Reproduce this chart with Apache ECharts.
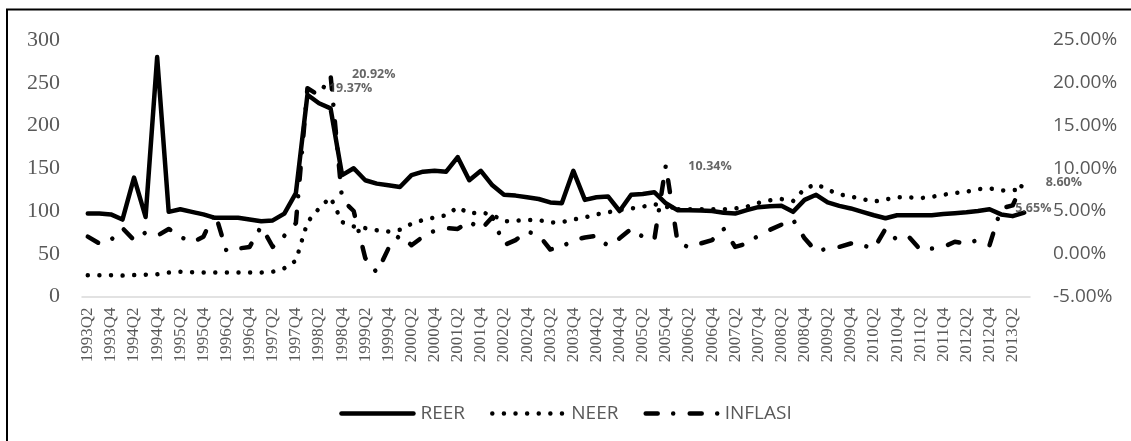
<!DOCTYPE html>
<html>
<head>
<meta charset="utf-8">
<script src="https://cdn.jsdelivr.net/npm/echarts@6/dist/echarts.min.js"></script>
<style>
html,body{margin:0;padding:0;background:#ffffff;}
#chart{width:1131px;height:441px;}
</style>
</head>
<body>
<div id="chart"></div>
<script>
const quarters = [
'1993Q2','1993Q3','1993Q4',
'1994Q1','1994Q2','1994Q3','1994Q4',
'1995Q1','1995Q2','1995Q3','1995Q4',
'1996Q1','1996Q2','1996Q3','1996Q4',
'1997Q1','1997Q2','1997Q3','1997Q4',
'1998Q1','1998Q2','1998Q3','1998Q4',
'1999Q1','1999Q2','1999Q3','1999Q4',
'2000Q1','2000Q2','2000Q3','2000Q4',
'2001Q1','2001Q2','2001Q3','2001Q4',
'2002Q1','2002Q2','2002Q3','2002Q4',
'2003Q1','2003Q2','2003Q3','2003Q4',
'2004Q1','2004Q2','2004Q3','2004Q4',
'2005Q1','2005Q2','2005Q3','2005Q4',
'2006Q1','2006Q2','2006Q3','2006Q4',
'2007Q1','2007Q2','2007Q3','2007Q4',
'2008Q1','2008Q2','2008Q3','2008Q4',
'2009Q1','2009Q2','2009Q3','2009Q4',
'2010Q1','2010Q2','2010Q3','2010Q4',
'2011Q1','2011Q2','2011Q3','2011Q4',
'2012Q1','2012Q2','2012Q3','2012Q4',
'2013Q1','2013Q2','2013Q3'
];

const reer = [
97,97,96,90,139,93,280,99,102,99,
96,92,92,92,90,88,89,97,121,236,
226,220,142,150,136,132,130,128,142,146,
147,146,163,136,147,130,119,118,116,114,
110,109,147,113,116,117,100,119,120,122,
109,101,101,100.5,100,98,97,101,104.5,105.5,
106,99,113,119,110,106,103,99,95,91.5,
95,95,95,95,96.5,97.5,98.5,100,102,96,
94,98
];

const neer = [
25,25,25,24.5,25,25.5,26,28,29,28.5,
28,28,28,28,28,28,29,33,42,87,
103,116,87,82,80,77.5,76,78,85,89.5,
92.5,95,104.5,97,98.5,95.5,88,88.5,89.5,89.5,
86.5,87,90,92.5,96,98.5,101,103,105,108,
105,102,102,102,102,102,103,105,109.5,112.5,
114,111.5,126,131.5,125,119.5,117,114,111,113.5,
116,116,115,116.5,119,121,122.5,125.5,126.5,124,
124.5,125
];

const inflasi = [
2.0,1.2,1.6,3.0,1.6,2.5,2.1,2.9,2.0,1.3,
2.0,4.8,0.3,0.6,0.8,3.2,0.8,2.1,3.6,19.37,
18.5,20.92,6.3,5.0,-0.5,-2.2,0.6,2.2,1.0,2.0,
2.7,3.0,2.9,3.8,2.8,4.3,1.0,1.6,2.6,2.2,
0.5,0.8,1.6,1.9,2.1,0.9,1.8,2.9,2.0,1.6,
10.34,1.5,0.7,1.2,1.6,2.9,0.8,1.2,2.1,2.8,
3.4,4.0,1.8,0.3,0.6,0.8,1.2,1.0,0.6,2.9,
1.6,2.0,0.5,0.6,0.8,1.4,1.2,1.6,1.0,5.3,
5.65,8.60
];

const labeledQuarters = ['1998Q1','1998Q3','2005Q4','2013Q2','2013Q3'];

const leftTicks = [0,50,100,150,200,250,300];
const rightTicks = [-5,0,5,10,15,20,25];

const seriesNames = ['REER','NEER','INFLASI'];

// label placement styles (not data)
const labelPlacement = {
  '1998Q1': {distance: 21, offset: [0, 0]},
  '1998Q3': {distance: 21, offset: [0, 0]},
  '2005Q4': {distance: 22, offset: [0, 1]},
  '2013Q2': {distance: 2, offset: [0, 3]},
  '2013Q3': {distance: 21, offset: [0, 2]}
};

const labelData = labeledQuarters.map(q => {
  const i = quarters.indexOf(q);
  const p = labelPlacement[q];
  return {
    value: [i, inflasi[i]],
    label: {distance: p.distance, offset: p.offset}
  };
});

const chart = echarts.init(document.getElementById('chart'), null, {renderer: 'canvas'});

const option = {
  animation: false,
  backgroundColor: '#ffffff',
  graphic: [{
    type: 'rect',
    silent: true,
    z: -10,
    shape: {x: 7, y: 9.5, width: 1400, height: 700},
    style: {fill: 'none', stroke: '#000000', lineWidth: 2}
  }],
  grid: {left: 82, right: 101, top: 40, bottom: 144.5, containLabel: false},
  legend: {
    data: seriesNames,
    left: 'center',
    top: 399,
    itemWidth: 72,
    itemHeight: 12,
    itemGap: 25,
    itemStyle: {opacity: 0},
    lineStyle: {width: 4.5},
    textStyle: {fontFamily: 'Open Sans', fontSize: 19, color: '#595959', padding: [0,0,0,2]}
  },
  xAxis: {
    type: 'category',
    data: quarters,
    boundaryGap: true,
    axisLine: {show: true, lineStyle: {color: '#d9d9d9', width: 1.5}},
    axisTick: {show: false},
    axisLabel: {
      interval: 1,
      rotate: 90,
      margin: 11,
      fontFamily: 'Liberation Serif',
      fontSize: 17,
      color: '#595959'
    },
    splitLine: {show: false}
  },
  yAxis: [
    {
      type: 'value',
      min: leftTicks[0],
      max: leftTicks[leftTicks.length - 1],
      interval: leftTicks[1] - leftTicks[0],
      position: 'left',
      axisLine: {show: false},
      axisTick: {show: false},
      splitLine: {show: false},
      axisLabel: {fontFamily: 'Liberation Serif', fontSize: 22, color: '#595959', margin: 22}
    },
    {
      type: 'value',
      min: rightTicks[0],
      max: rightTicks[rightTicks.length - 1],
      interval: rightTicks[1] - rightTicks[0],
      position: 'right',
      axisLine: {show: false},
      axisTick: {show: false},
      splitLine: {show: false},
      axisLabel: {
        formatter: v => v.toFixed(2) + '%',
        fontFamily: 'Open Sans', fontSize: 19, color: '#595959', margin: 23
      }
    }
  ],
  series: [
    {
      name: seriesNames[0],
      type: 'line',
      yAxisIndex: 0,
      data: reer,
      symbol: 'none',
      showSymbol: false,
      lineStyle: {color: '#000000', width: 4.5, join: 'round', cap: 'round'},
      itemStyle: {color: '#000000'}
    },
    {
      name: seriesNames[1],
      type: 'line',
      yAxisIndex: 0,
      data: neer,
      symbol: 'none',
      showSymbol: false,
      lineStyle: {color: '#000000', width: 4.5, type: [0.01, 11.6], cap: 'round', join: 'round'},
      itemStyle: {color: '#000000'}
    },
    {
      name: seriesNames[2],
      type: 'line',
      yAxisIndex: 1,
      data: inflasi,
      symbol: 'none',
      showSymbol: false,
      lineStyle: {color: '#000000', width: 4.5, type: [12, 15.5, 0.01, 16.5], cap: 'round', join: 'round'},
      itemStyle: {color: '#000000'}
    },
    {
      name: 'labels',
      type: 'scatter',
      yAxisIndex: 1,
      data: labelData,
      symbolSize: 1,
      itemStyle: {color: 'rgba(0,0,0,0)'},
      silent: true,
      z: 5,
      label: {
        show: true,
        position: 'right',
        formatter: p => p.value[1].toFixed(2) + '%',
        fontFamily: 'Open Sans',
        fontWeight: 'bold',
        fontSize: 12.5,
        color: '#404040'
      }
    }
  ]
};

chart.setOption(option);
</script>
</body>
</html>
